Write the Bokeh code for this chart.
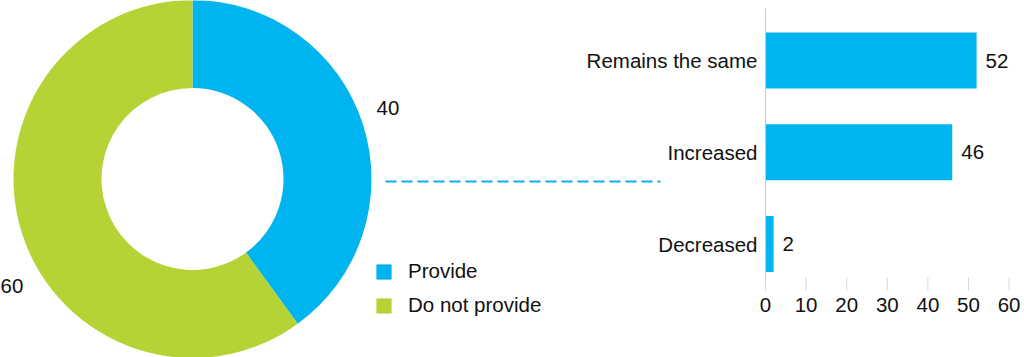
import math
from bokeh.plotting import figure
from bokeh.models import Range1d, ColumnDataSource, Legend, LegendItem
from bokeh.embed import file_html
from bokeh.resources import INLINE
from bokeh.core.properties import value

# ---------------- data ----------------
pie_labels = ["Provide", "Do not provide"]
pie_values = [40, 60]
pie_colors = ["#00B4EF", "#B5D334"]

bar_categories = ["Remains the same", "Increased", "Decreased"]
bar_values = [52, 46, 2]
bar_color = "#00B4EF"
tick_values = [0, 10, 20, 30, 40, 50, 60]

# ---------------- layout constants ----------------
W, H = 1024, 357
FONT = "Liberation Sans"
FS = "20.5px"
TXT = "#111111"

# donut geometry (screen-like units, y up)
cx, cy = 192, 178.5
r_out, r_in = 179, 91

# bar scale: value 0 at x=765px, 4.06 px per unit
x0_px, px_per = 765.0, 4.06
row_px = 91.75
last_center_px = 243.5

def by_from_screen(ypx):
    return -(ypx - last_center_px) / row_px

p = figure(width=W, height=H, output_backend="svg", toolbar_location=None,
           x_range=Range1d(0, W), y_range=Range1d(0, H), min_border=0,
           x_axis_location=None, y_axis_location=None)
p.outline_line_color = None
p.grid.visible = False
p.background_fill_color = "white"

p.extra_x_ranges = {"bx": Range1d(-x0_px / px_per, (W - x0_px) / px_per)}
p.extra_y_ranges = {"by": Range1d(by_from_screen(H), by_from_screen(0))}

# ---------------- donut ----------------
total = sum(pie_values)
starts, ends, cum = [], [], 0
for v in pie_values:
    starts.append(math.pi / 2 - 2 * math.pi * cum / total)
    cum += v
    ends.append(math.pi / 2 - 2 * math.pi * cum / total)

pie_src = ColumnDataSource(dict(label=pie_labels, value=pie_values, color=pie_colors,
                                start=starts, end=ends,
                                x=[cx] * len(pie_values), y=[cy] * len(pie_values)))
wedges = p.annular_wedge(x="x", y="y", inner_radius=r_in, outer_radius=r_out,
                         start_angle="start", end_angle="end", direction="clock",
                         fill_color="color", line_color=None, source=pie_src)

pie_lab_x = [376, 0]
pie_lab_y = [H - 107, H - 285]
p.text(x=pie_lab_x, y=pie_lab_y, text=[str(v) for v in pie_values],
       text_font=value(FONT), text_font_size=FS, text_color=TXT,
       text_align="left", text_baseline="middle")

legend = Legend(items=[LegendItem(label=lab, renderers=[wedges], index=i)
                       for i, lab in enumerate(pie_labels)],
                location=(374, 40), orientation="vertical",
                glyph_width=19, glyph_height=19, label_standoff=15, spacing=10,
                padding=0, margin=0, border_line_color=None, background_fill_alpha=0,
                label_text_font=FONT, label_text_font_size=FS, label_text_color=TXT)
p.add_layout(legend, "center")

p.line(x=[385, 660], y=[H - 181, H - 181], line_color="#12ACEA", line_width=1.8,
       line_dash="11 5")

# ---------------- bars ----------------
n = len(bar_categories)
ypos = [n - 1 - i for i in range(n)]
bar_src = ColumnDataSource(dict(cat=bar_categories, val=bar_values, y=ypos,
                                lab=[str(v) for v in bar_values]))
p.hbar(y="y", left=0, right="val", height=0.61, fill_color=bar_color, line_color=None,
       source=bar_src, x_range_name="bx", y_range_name="by")

p.text(x=0, y="y", text="cat", source=bar_src, x_offset=-8,
       text_font=value(FONT), text_font_size=FS, text_color=TXT,
       text_align="right", text_baseline="middle", x_range_name="bx", y_range_name="by")
p.text(x="val", y="y", text="lab", source=bar_src, x_offset=9,
       text_font=value(FONT), text_font_size=FS, text_color=TXT,
       text_align="left", text_baseline="middle", x_range_name="bx", y_range_name="by")

axis_bottom = by_from_screen(290)
axis_top = by_from_screen(8)
tick_top = by_from_screen(277)
p.segment(x0=[0], y0=[axis_bottom], x1=[0], y1=[axis_top], line_color="#c8c8c8",
          line_width=1, x_range_name="bx", y_range_name="by")
p.segment(x0=tick_values, y0=[axis_bottom] * len(tick_values), x1=tick_values,
          y1=[tick_top] * len(tick_values), line_color="#d8d8d8", line_width=1,
          x_range_name="bx", y_range_name="by")
p.text(x=tick_values, y=[axis_bottom] * len(tick_values), text=[str(t) for t in tick_values],
       y_offset=7, text_font=value(FONT), text_font_size=FS, text_color=TXT,
       text_align="center", text_baseline="top", x_range_name="bx", y_range_name="by")

open("out.html", "w").write(file_html(p, INLINE))
